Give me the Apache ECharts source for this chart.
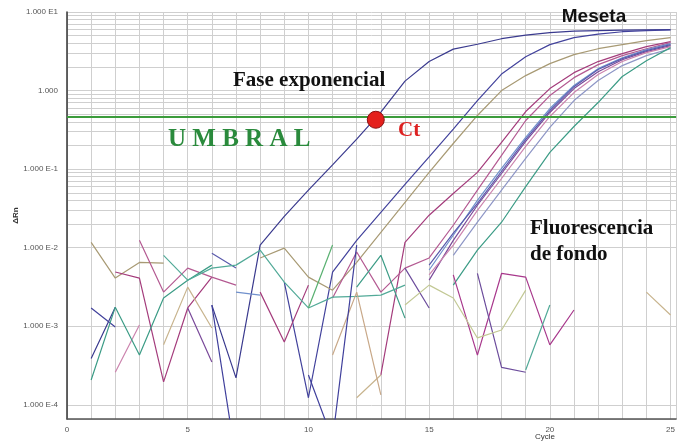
<!DOCTYPE html>
<html>
<head>
<meta charset="utf-8">
<script src="https://cdn.jsdelivr.net/npm/echarts/dist/echarts.min.js"></script>
<style>
html,body{margin:0;padding:0;background:#fff;}
#chart{width:678px;height:441px;}
</style>
</head>
<body>
<div id="chart"></div>
<script>
// ---- data (ΔRn per cycle; null = no plotted value) ----
const cycles = [1,2,3,4,5,6,7,8,9,10,11,12,13,14,15,16,17,18,19,20,21,22,23,24,25];

const wellA = [3.9e-4,1.75e-3,null,null,null,1.86e-3,2.2e-4,1.08e-2,2.51e-2,5.4e-2,0.113,0.241,0.533,1.32,2.34,3.37,3.89,4.57,5.07,5.45,5.70,5.78,5.87,5.92,5.95];
const wellB = [1.71e-3,9.8e-4,null,null,null,null,null,null,3.65e-3,1.23e-4,4.9e-3,1.24e-2,2.82e-2,6.4e-2,0.143,0.323,0.746,1.62,2.70,3.84,4.71,5.22,5.61,5.78,5.90];
const wellC = [1.17e-2,4.1e-3,6.5e-3,6.35e-3,null,null,null,7.4e-3,9.86e-3,4.22e-3,2.88e-3,6.5e-3,1.57e-2,3.78e-2,9.1e-2,0.212,0.482,1.0,1.55,2.20,2.87,3.41,3.84,4.31,4.71];
const wellD = [null,4.9e-3,4.1e-3,1.96e-4,1.71e-3,4.22e-3,null,2.72e-3,6.3e-4,3.34e-3,null,null,2.4e-4,1.17e-2,2.59e-2,4.9e-2,9.1e-2,0.219,0.541,1.06,1.69,2.34,2.95,3.62,4.19];
const wellE = [null,null,1.24e-2,2.72e-3,5.5e-3,4.22e-3,3.34e-3,null,null,null,2.29e-3,8.8e-3,2.72e-3,5.5e-3,7.4e-3,1.93e-2,5.4e-2,0.150,0.416,0.864,1.46,2.14,2.78,3.41,4.07];
const wellF = [null,null,null,null,null,null,2.72e-3,2.49e-3,null,null,null,null,null,null,5.2e-3,1.44e-2,4.0e-2,0.102,0.253,0.591,1.16,1.90,2.62,3.32,3.95];
const wellG = [null,null,null,null,1.71e-3,3.5e-4,null,null,null,null,null,null,null,null,3.86e-3,1.24e-2,3.47e-2,8.8e-2,0.225,0.526,1.06,1.74,2.47,3.13,3.73];
const wellH = [null,2.6e-4,1.04e-3,null,null,null,null,null,null,null,null,null,null,null,4.5e-3,1.08e-2,2.99e-2,7.6e-2,0.195,0.468,0.943,1.60,2.34,3.04,3.62];
const wellI = [null,null,null,null,null,8.5e-3,5.5e-3,null,null,null,null,null,null,null,6.0e-3,1.53e-2,3.67e-2,9.4e-2,0.239,0.557,1.12,1.85,2.55,3.22,3.84];
const wellJ = [null,null,null,null,null,null,null,null,null,null,null,null,null,null,null,8.0e-3,2.11e-2,5.4e-2,0.137,0.339,0.746,1.34,2.08,2.78,3.41];
const wellK = [2.07e-4,1.75e-3,4.3e-4,2.29e-3,3.86e-3,6.0e-3,null,null,null,null,null,3.15e-3,8.0e-3,1.27e-3,null,3.34e-3,9.3e-3,2.11e-2,6.0e-2,0.163,0.349,0.704,1.51,2.40,3.52];
const noiseA = [null,null,null,null,null,null,null,null,null,null,null,null,null,null,null,4.5e-3,4.3e-4,4.7e-3,4.22e-3,5.8e-4,1.61e-3,null,null,null,null];
const noiseB = [null,null,null,null,null,null,null,null,null,null,null,null,null,5.5e-3,1.71e-3,null,4.7e-3,3.0e-4,2.6e-4,null,null,null,null,null,null];
const noiseC = [null,null,null,8.0e-3,3.86e-3,5.5e-3,6.0e-3,9.3e-3,3.65e-3,1.71e-3,2.35e-3,2.4e-3,2.49e-3,3.34e-3,null,null,null,null,2.78e-4,1.86e-3,null,null,null,null,null];
const noiseD = [null,null,null,5.8e-4,3.15e-3,9.5e-4,null,null,null,null,null,1.23e-4,2.4e-4,null,null,null,null,null,null,null,null,null,null,2.72e-3,1.39e-3];
const noiseE = [null,null,null,null,null,null,null,null,null,null,4.3e-4,2.72e-3,1.34e-4,null,null,null,null,null,null,null,null,null,null,null,null];
const noiseF = [null,null,null,null,null,null,null,null,null,null,null,null,null,1.86e-3,3.34e-3,2.29e-3,7.1e-4,8.96e-4,2.88e-3,null,null,null,null,null,null];
const noiseG = [null,null,null,null,null,1.86e-3,2.0e-5,null,null,2.4e-4,3.6e-5,1.08e-2,null,null,null,null,null,null,null,null,null,null,null,null,null];
const noiseH = [null,null,null,null,null,null,null,null,null,1.71e-3,1.08e-2,null,null,null,null,null,null,null,null,null,null,null,null,null,null];

const threshold = 0.468;          // UMBRAL
const ctPoint = [12.79, 0.425];   // Ct
const xTicks = [0,5,10,15,20,25];
const yMin = 6.6e-5, yMax = 10, xMax = 25.23;

// ---- styling ----
const curves = [
  [wellA,'#3a3a8e'],[wellB,'#42429c'],[wellC,'#a89a74'],[wellD,'#a43c7c'],[wellE,'#b45a92'],
  [wellF,'#7090cc'],[wellG,'#7a4a9a'],[wellH,'#cc84ae'],[wellI,'#5a5aac'],[wellJ,'#8e96c6'],
  [wellK,'#3c9c86'],[noiseA,'#a8388c'],[noiseB,'#6c4c9c'],[noiseC,'#52aa98'],[noiseD,'#c8b48e'],
  [noiseE,'#c8a888'],[noiseF,'#c2c894'],[noiseG,'#40409c'],[noiseH,'#58b070']
];

const minorGrid = [];
for (let k = -5; k <= 0; k++) {
  for (let m = 2; m <= 9; m++) {
    const v = m * Math.pow(10, k);
    if (v > yMin && v < yMax) minorGrid.push({ yAxis: v });
  }
}

const series = [];
series.push({
  type: 'line', data: [], z: 0, silent: true,
  markLine: {
    z: 0, silent: true, symbol: ['none','none'], label: { show: false },
    lineStyle: { color: '#cfcfcf', width: 1, type: 'solid' },
    emphasis: { disabled: true },
    data: minorGrid
  }
});
curves.forEach(([arr, color]) => {
  series.push({
    type: 'line', silent: true, showSymbol: false, symbol: 'none',
    connectNulls: false, z: 2,
    lineStyle: { color: color, width: 1.2 },
    data: cycles.map((c, i) => [c, arr[i]])
  });
});
series.push({
  type: 'line', data: [], z: 3, silent: true,
  markLine: {
    z: 3, silent: true, symbol: ['none','none'], label: { show: false },
    lineStyle: { color: '#3c9c3c', width: 2, type: 'solid' },
    data: [{ yAxis: threshold }]
  }
});
series.push({
  type: 'scatter', z: 5, silent: true, symbol: 'circle', symbolSize: 17,
  itemStyle: { color: '#e4201c', borderColor: '#8a1010', borderWidth: 1, opacity: 1 },
  data: [ctPoint]
});

const chart = echarts.init(document.getElementById('chart'), null, { renderer: 'canvas' });
chart.setOption({
  animation: false,
  backgroundColor: '#ffffff',
  grid: { left: 67, right: 0, top: 12, bottom: 22, containLabel: false },
  xAxis: {
    type: 'value', min: 0, max: xMax, interval: 1,
    axisLine: { lineStyle: { color: '#555', width: 1.5 } },
    axisTick: { show: false },
    splitLine: { show: true, lineStyle: { color: '#cfcfcf', width: 1 } },
    axisLabel: {
      margin: 7, fontSize: 8, color: '#555', fontFamily: 'Liberation Sans',
      showMaxLabel: false,
      formatter: v => (xTicks.indexOf(v) >= 0 ? String(v) : '')
    }
  },
  yAxis: {
    type: 'log', logBase: 10, min: yMin, max: yMax,
    name: 'ΔRn', nameLocation: 'middle', nameGap: 47, nameRotate: 90,
    nameMoveOverlap: false,
    nameTextStyle: { fontSize: 8, fontWeight: 'bold', color: '#333', fontFamily: 'Liberation Sans' },
    axisLine: { show: true, lineStyle: { color: '#333', width: 1.5 } },
    axisTick: { show: false },
    splitLine: { show: true, lineStyle: { color: '#cfcfcf', width: 1 } },
    axisLabel: {
      margin: 9, fontSize: 8, color: '#555', fontFamily: 'Liberation Sans',
      formatter: function (v) {
        const l = Math.log10(v), e = Math.round(l);
        if (Math.abs(l - e) > 1e-6) return '';
        return e === 0 ? '1.000' : '1.000 E' + e;
      }
    }
  },
  series: series,
  graphic: [
    { type: 'text', x: 233, y: 81, z: 10, silent: true,
      style: { text: 'Fase exponencial', font: 'bold 21px "Liberation Serif"', fill: '#111', textAlign: 'left', verticalAlign: 'middle' } },
    { type: 'text', x: 168, y: 140, z: 10, silent: true,
      style: { text: 'U M B R A L', font: 'bold 25px "Liberation Serif"', fill: '#2a8a3c', textAlign: 'left', verticalAlign: 'middle' } },
    { type: 'text', x: 398, y: 131, z: 10, silent: true,
      style: { text: 'Ct', font: 'bold 21px "Liberation Serif"', fill: '#dd2222', textAlign: 'left', verticalAlign: 'middle' } },
    { type: 'text', x: 594, y: 17, z: 10, silent: true,
      style: { text: 'Meseta', font: 'bold 19px "Liberation Sans"', fill: '#111', textAlign: 'center', verticalAlign: 'middle' } },
    { type: 'text', x: 530, y: 229, z: 10, silent: true,
      style: { text: 'Fluorescencia', font: 'bold 21px "Liberation Serif"', fill: '#111', textAlign: 'left', verticalAlign: 'middle' } },
    { type: 'text', x: 530, y: 255, z: 10, silent: true,
      style: { text: 'de fondo', font: 'bold 21px "Liberation Serif"', fill: '#111', textAlign: 'left', verticalAlign: 'middle' } },
    { type: 'text', x: 545, y: 437, z: 10, silent: true,
      style: { text: 'Cycle', font: '8px "Liberation Sans"', fill: '#333', textAlign: 'center', verticalAlign: 'middle' } }
  ]
});
</script>
</body>
</html>
